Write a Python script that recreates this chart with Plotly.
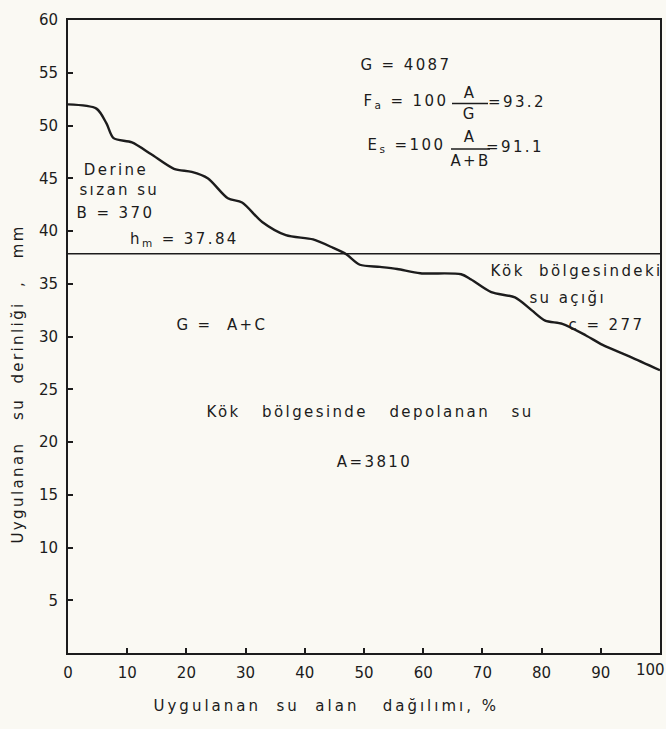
import plotly.graph_objects as go

# Data (x: % of area, y: applied water depth, mm)
area_pct = [0, 4.8, 6.5, 7.7, 10.8, 14.0, 17.9, 20.9, 23.6, 27.0, 29.4, 32.8, 36.8,
            41.4, 44.8, 47.0, 49.3, 52.7, 55.6, 59.5, 66.4, 68.1, 71.5, 75.5, 78.3,
            80.6, 83.5, 87.5, 90.3, 94.9, 100]
depth_mm = [52.0, 51.6, 50.2, 48.8, 48.4, 47.3, 45.9, 45.6, 45.0, 43.1, 42.7, 40.85, 39.6,
            39.2, 38.4, 37.8, 36.8, 36.6, 36.4, 36.0, 35.9, 35.4, 34.2, 33.7, 32.5,
            31.5, 31.2, 30.1, 29.2, 28.1, 26.8]
h_mean = 37.84
x_ticks = [0, 10, 20, 30, 40, 50, 60, 70, 80, 90, 100]
y_ticks = [5, 10, 15, 20, 25, 30, 35, 40, 45, 50, 55, 60]

W, H = 666, 729
L, R, T, B = 68, 6, 20, 76
PW, PH = W - L - R, H - T - B
FONT = "DejaVu Sans"
INK = "#1c1c1c"
NB = "\u00a0"


def PX(px):
    return (px - L) / PW


def PY(py):
    return (H - B - py) / PH


fig = go.Figure()
fig.add_trace(go.Scatter(x=area_pct, y=depth_mm, mode="lines",
                         line=dict(color=INK, width=2.4, shape="spline", smoothing=0.8),
                         showlegend=False, hoverinfo="skip"))
fig.add_trace(go.Scatter(x=[0, 100], y=[h_mean, h_mean], mode="lines",
                         line=dict(color=INK, width=1.5), showlegend=False, hoverinfo="skip"))

ann = []


def txt(s, px, py, size=15, angle=0):
    ann.append(dict(text=s, x=PX(px), y=PY(py), xref="paper", yref="paper", showarrow=False,
                    xanchor="center", yanchor="middle", textangle=angle,
                    font=dict(family=FONT, size=size, color=INK)))


# formulas block
txt(f"G{NB}={NB}4087", 406, 65)
txt(f"F<sub>a</sub>{NB}={NB}100", 406, 101)
txt("A", 470, 93)
txt("G", 470, 114)
txt("=93.2", 517, 102)
txt(f"E<sub>s</sub>{NB}=100", 406, 146)
txt("A", 470, 137)
txt("A+B", 470, 161)
txt("=91.1", 515, 147)

# region labels
txt("Derine", 116, 170)
txt(f"sızan{NB}su", 119, 190)
txt(f"B{NB}={NB}370", 115, 213)
txt(f"h<sub>m</sub>{NB}={NB}37.84", 184, 240)
txt(f"Kök{NB}{NB}bölgesindeki", 576, 271)
txt(f"su{NB}açığı", 567, 298)
txt(f"c{NB}={NB}277", 606, 325)
txt(f"G{NB}={NB}{NB}A+C", 222, 325)
txt(f"Kök{NB}{NB}{NB}bölgesinde{NB}{NB}{NB}depolanan{NB}{NB}{NB}su", 370, 412)
txt("A=3810", 375, 462)

# last x tick label sits left of its tick in the original
txt(str(x_ticks[-1]), 650, 670)

# axis titles
txt(f"Uygulanan{NB}{NB}su{NB}{NB}alan{NB}{NB}{NB}dağılımı,{NB}%", 326, 706)
txt(f"Uygulanan{NB}{NB}{NB}su{NB}{NB}derinliği{NB}{NB},{NB}{NB}{NB}mm",
    18, 384, angle=-90)

# fraction bars
shapes = [
    dict(type="line", xref="paper", yref="paper", x0=PX(452), x1=PX(488),
         y0=PY(103.5), y1=PY(103.5), line=dict(color=INK, width=1.3)),
    dict(type="line", xref="paper", yref="paper", x0=PX(451), x1=PX(490),
         y0=PY(149), y1=PY(149), line=dict(color=INK, width=1.3)),
]

fig.update_layout(
    width=W, height=H,
    margin=dict(l=L, r=R, t=T, b=B, autoexpand=False),
    paper_bgcolor="#faf9f3", plot_bgcolor="#faf9f3",
    annotations=ann, shapes=shapes,
    font=dict(family=FONT, size=15, color=INK),
)
fig.update_xaxes(range=[0, 100], tickvals=x_ticks,
                 ticktext=[str(v) for v in x_ticks[:-1]] + [""],
                 showgrid=False, zeroline=False, showline=True, linecolor=INK, linewidth=2,
                 mirror=True, ticks="inside", ticklen=5, tickwidth=1.5, tickcolor=INK,
                 tickfont=dict(family=FONT, size=15, color=INK), ticklabelstandoff=5)
fig.update_yaxes(range=[0, 60], tickvals=y_ticks, ticktext=[str(v) for v in y_ticks],
                 showgrid=False, zeroline=False, showline=True, linecolor=INK, linewidth=2,
                 mirror=True, ticks="inside", ticklen=5, tickwidth=1.5, tickcolor=INK,
                 tickfont=dict(family=FONT, size=15, color=INK), ticklabelstandoff=5)

# widen letter spacing of the lettering to mimic the stencil-lettered original
post = """
var gd = document.getElementById('{plot_id}');
function sp(){
  gd.querySelectorAll('.annotation-text').forEach(function(t){
    var s = t.textContent || '';
    if (s.indexOf('Uygulanan') === 0 && s.indexOf('%') >= 0) { t.style.letterSpacing = '3.0px'; }
    else if (/^[0-9]+$/.test(s)) { t.style.letterSpacing = '0px'; }
    else { t.style.letterSpacing = '2.4px'; }
  });
}
sp();
if (gd.on) { gd.on('plotly_afterplot', sp); }
"""
fig.write_html("out.html", post_script=post)
